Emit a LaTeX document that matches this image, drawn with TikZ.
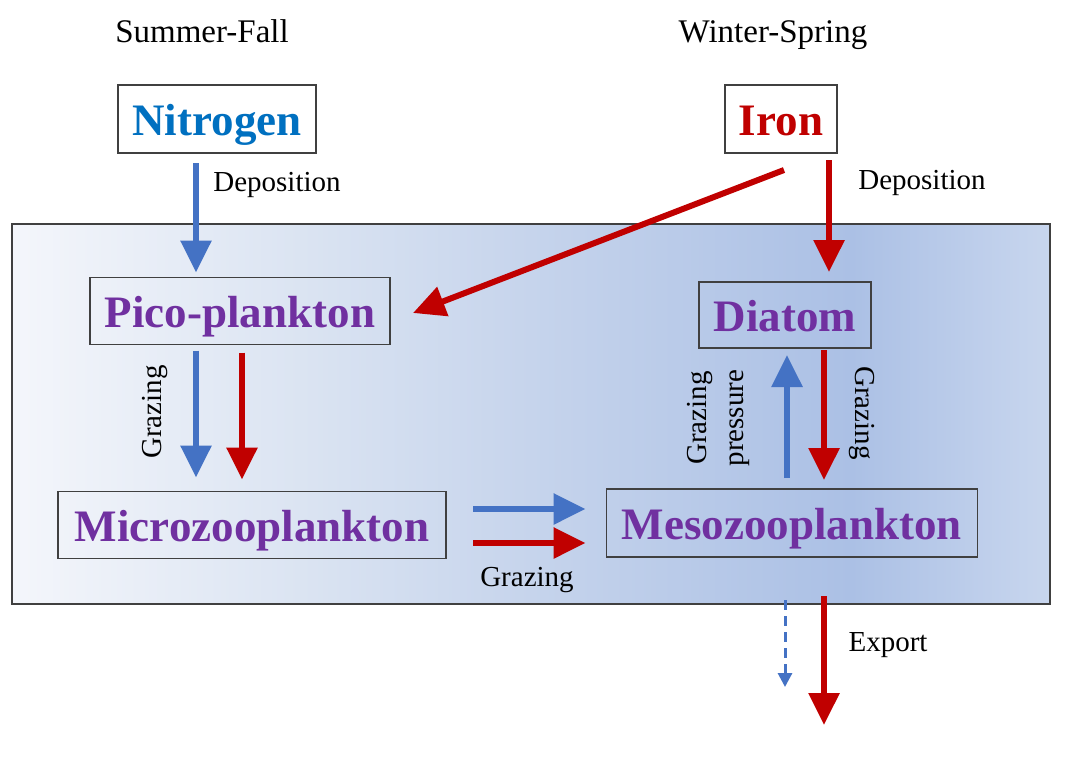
\documentclass[tikz,border=0pt]{standalone}
\usepackage{fontspec}
\setmainfont{Liberation Serif}
\usepackage{tikz}
\usetikzlibrary{calc,arrows.meta}
\definecolor{nblue}{RGB}{68,114,196}
\definecolor{fered}{RGB}{192,0,0}
\definecolor{ntext}{RGB}{0,112,192}
\definecolor{taxa}{RGB}{112,48,160}
\definecolor{edge}{RGB}{64,64,64}
\definecolor{sea0}{RGB}{244,246,251}
\definecolor{sea1}{RGB}{219,228,242}
\definecolor{sea2}{RGB}{198,212,236}
\definecolor{sea3}{RGB}{171,192,229}
\definecolor{sea4}{RGB}{200,214,238}
\pgfdeclarehorizontalshading{ocean}{100bp}{color(0bp)=(sea0); color(25bp)=(sea0); color(38.9bp)=(sea1); color(50bp)=(sea2); color(65.4bp)=(sea3); color(75bp)=(sea4); color(100bp)=(sea4)}
\tikzset{
	every node/.style={inner sep=0pt,outer sep=0pt},
	nutrient/.style={draw=edge,line width=1.2pt,fill=white,minimum height=68pt,text height=40pt,text depth=8pt,font=\fontsize{45}{50}\selectfont\bfseries},
	taxon/.style={draw=edge,line width=1.2pt,minimum height=67pt,text height=40pt,text depth=8pt,text=taxa,font=\fontsize{45}{50}\selectfont\bfseries},
	season/.style={anchor=base,font=\fontsize{33}{38}\selectfont},
	note/.style={font=\fontsize{29}{37}\selectfont,align=center},
	nflow/.style={draw=nblue,line width=6pt,arrows={-Triangle[length=32pt,width=30pt]}},
	feflow/.style={draw=fered,line width=6pt,arrows={-Triangle[length=32pt,width=30pt]}},
	weakflow/.style={draw=nblue,line width=3pt,dash pattern=on 10pt off 6pt,arrows={-Triangle[length=14pt,width=14pt]}}
	}
\begin{document}
\begin{tikzpicture}[x=1pt,y=-1pt]
  \useasboundingbox (0,0) rectangle (1067,760);
  % surface ocean
  \draw[edge,line width=1.5pt,shading=ocean] (12,224) rectangle (1050,604);

  \node[season] (sf) at (202,43) {Summer-Fall};
  \node[season] (ws) at (773,43) {Winter-Spring};

  \node[nutrient,text=ntext,minimum width=198pt] (nitro) at (217,119) {Nitrogen};
  \node[nutrient,text=fered,minimum width=112pt] (iron) at (781,119) {Iron};

  \node[taxon,minimum width=300pt] (pico) at (240,311) {Pico-plankton};
  \node[taxon,minimum width=172pt,minimum height=66pt] (diatom) at (785,315) {Diatom};
  \node[taxon,minimum width=388pt] (micro) at (252,525) {Microzooplankton};
  \node[taxon,minimum width=371pt,minimum height=68pt] (meso) at (792,523) {Mesozooplankton};

  \coordinate (exp) at (824,725);
  \coordinate (weak) at (785,687);

  % deposition
  \draw[nflow] ([xshift=-21pt,yshift=-10pt]nitro.south) -- ([xshift=-44pt,yshift=5pt]pico.north);
  \draw[feflow] ([xshift=48pt,yshift=-7pt]iron.south) -- ([xshift=44pt,yshift=10pt]diatom.north);
  \draw[feflow] ([xshift=3pt,yshift=-17pt]iron.south) -- ([xshift=23pt,yshift=-2pt]pico.east);
  \node[note] (dep1) at (277,185) {Deposition};
  \node[note] (dep2) at (922,183) {Deposition};

  % grazing
  \draw[nflow] ([xshift=-44pt,yshift=-6pt]pico.south) -- ([xshift=-56pt,yshift=14pt]micro.north);
  \draw[feflow] ([xshift=2pt,yshift=-8pt]pico.south) -- ([xshift=-10pt,yshift=12pt]micro.north);
  \node[note,rotate=90] (gr1) at (155,412) {Grazing};

  \draw[nflow] ([xshift=-5pt,yshift=11pt]meso.north) -- ([xshift=2pt,yshift=-7pt]diatom.south);
  \draw[feflow] ([xshift=39pt,yshift=-2pt]diatom.south) -- ([xshift=32pt,yshift=9pt]meso.north);
  \node[note,rotate=90] (gr2) at (718,418) {Grazing\\pressure};
  \node[note,rotate=-90] (gr3) at (862,413) {Grazing};

  \draw[nflow] ([xshift=27pt,yshift=16pt]micro.east) -- ([xshift=-21pt,yshift=14pt]meso.west);
  \draw[feflow] ([xshift=27pt,yshift=-18pt]micro.east) -- ([xshift=-21pt,yshift=-20pt]meso.west);
  \node[note] (gr4) at (527,580) {Grazing};

  % export
  \draw[feflow] ([xshift=32pt,yshift=-39pt]meso.south) -- (exp);
  \draw[weakflow] ([xshift=-7pt,yshift=-43pt]meso.south) -- (weak);
  \node[note] (ex) at (888,645) {Export};
\end{tikzpicture}
\end{document}
